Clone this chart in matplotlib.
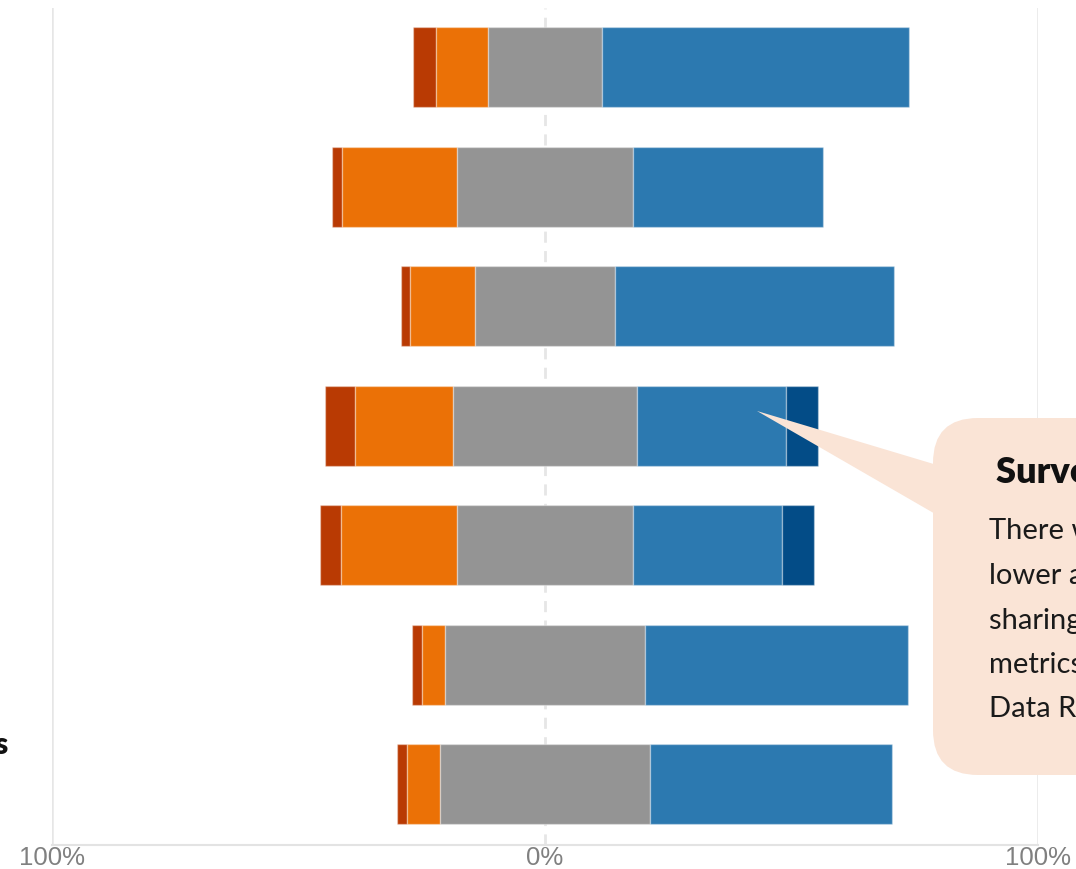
import matplotlib
matplotlib.use("Agg")
import matplotlib.pyplot as plt
from matplotlib.patches import FancyBboxPatch, Polygon
import numpy as np

# ---- data (percent of responses) ----
rows = ["Q1", "Q2", "Q3", "Q4", "Q5", "Q6", "Q7"]
strongly_disagree = [4.7, 2.0, 2.0, 6.1, 4.1, 2.0, 2.0]
disagree          = [10.5, 23.5, 13.2, 19.7, 23.7, 4.7, 6.7]
neutral           = [23.3, 35.5, 28.2, 37.5, 35.5, 40.4, 42.6]
agree             = [62.1, 38.7, 56.6, 30.2, 30.4, 53.5, 49.1]
strongly_agree    = [0.0, 0.0, 0.0, 6.5, 6.5, 0.0, 0.0]
tick_values = [-100, 0, 100]
tick_labels = ["100%", "0%", "100%"]

callout_title = "Survey Highlights"
callout_lines = ["There was a notably", "lower agreement on", "sharing of data and",
                 "metrics among the", "Data Reporting teams."]
side_label = "Data Products"

colors = ["#B93A03", "#EB7106", "#949494", "#2C79B0", "#034C87"]

W, H = 1076, 869
fig = plt.figure(figsize=(W / 100, H / 100), dpi=100)
fig.patch.set_facecolor("white")

ax_left, ax_right, ax_top, ax_bottom = 52, 1038, 8, 845
ax = fig.add_axes([ax_left / W, 1 - ax_bottom / H, (ax_right - ax_left) / W, (ax_bottom - ax_top) / H])
ax.set_facecolor("none")

y = np.arange(len(rows))
sd = np.array(strongly_disagree)
d = np.array(disagree)
n = np.array(neutral)
a = np.array(agree)
sa = np.array(strongly_agree)
start = -(sd + d + n / 2)
segments = [sd, d, n, a, sa]
left = start.copy()
edge = (1, 1, 1, 0.35)
for seg, c in zip(segments, colors):
    mask = seg > 0
    ax.barh(y[mask], seg[mask], left=left[mask], height=0.67, color=c,
            edgecolor=edge, linewidth=1, zorder=3)
    left = left + seg

ax.set_xlim(-100, 100)
ax.set_ylim(6.51, -0.494)

# grid lines
for v in (-100, 100):
    ax.axvline(v, color="#e6e6e6", lw=1.8, zorder=1)
ax.axvline(0, color="#e6e6e6", lw=2, linestyle=(0, (4, 3)), zorder=1)

for s in ("top", "left", "right"):
    ax.spines[s].set_visible(False)
ax.spines["bottom"].set_color("#e3e3e3")
ax.spines["bottom"].set_linewidth(1.5)
ax.set_yticks([])
ax.set_xticks(tick_values)
ax.set_xticklabels(tick_labels, fontsize=18.5, color="#808080", family="Liberation Sans")
ax.tick_params(axis="x", length=0, pad=1)

# overlay in pixel coordinates for annotation elements
ov = fig.add_axes([0, 0, 1, 1])
ov.set_xlim(0, W)
ov.set_ylim(H, 0)
ov.axis("off")
ov.set_facecolor("none")

peach = "#FAE4D6"
box = FancyBboxPatch((933, 418), 220, 357, boxstyle="round,pad=0,rounding_size=45",
                     facecolor=peach, edgecolor="none", zorder=2)
ov.add_patch(box)
tri = Polygon([(757, 411), (937, 465), (937, 515)], closed=True, facecolor=peach,
              edgecolor="none", zorder=2)
ov.add_patch(tri)

ov.text(996, 472, callout_title, fontsize=26, fontweight="heavy", family="Lato",
        color="#111111", va="center", ha="left", zorder=3)
line_y = [531, 576, 621, 665, 709]
for ly, txt in zip(line_y, callout_lines):
    ov.text(989, ly, txt, fontsize=21, family="Lato", color="#1a1a1a",
            va="center", ha="left", zorder=3)

ov.text(8, 745, side_label, fontsize=22, fontweight="heavy", family="Lato",
        color="#111111", va="center", ha="right", zorder=3)

fig.savefig("out.png", dpi=100, facecolor="white")
